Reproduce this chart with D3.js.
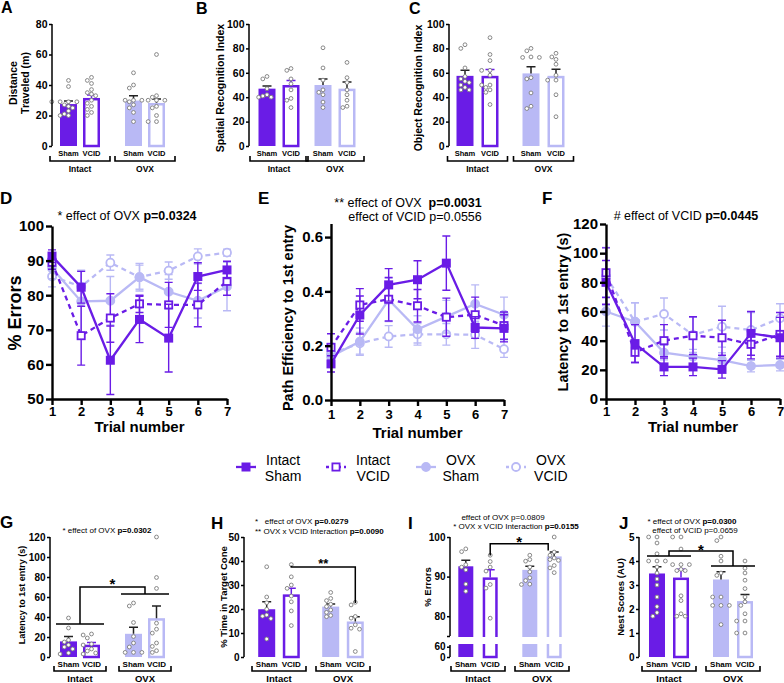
<!DOCTYPE html>
<html>
<head>
<meta charset="utf-8">
<script src="https://cdn.jsdelivr.net/npm/d3@7"></script>
<style>
body { margin: 0; background: #fff; }
svg { display: block; font-family: "Liberation Sans", Arial, sans-serif; }
</style>
</head>
<body>
<div id="container"></div>
<script>
var w = 784, h = 683;
var dark = "#6a1ce6", light = "#b9b9f5";

// ---- categories
var groups = ["Intact", "OVX"];
var conds = ["Sham", "VCID"];
var seriesNames = ["Intact Sham", "Intact VCID", "OVX Sham", "OVX VCID"];
var trials = [1, 2, 3, 4, 5, 6, 7];

// ---- A: distance traveled (m)
var distMean = [27.5, 31.5, 29.8, 28.2];
var distSem = [2.0, 2.0, 3.2, 2.6];
var distPts = [
  [43, 39, 29, 29, 29, 29, 27, 26, 25, 23, 21, 20, 20],
  [45, 43, 41, 37, 35, 34, 33, 30, 28, 26, 24, 22, 20],
  [48, 40, 38, 30, 30, 30, 29, 27, 25, 22, 16],
  [60, 33, 32, 30, 30, 30, 26, 25, 20, 16, 16]
];
// ---- B: spatial recognition index
var spatMean = [47, 50, 50, 47];
var spatSem = [2.2, 3.7, 5, 5.5];
var spatPts = [
  [57, 55, 47, 42, 41, 40, 40],
  [63.5, 62, 55, 51, 46, 39, 37.5, 31.5],
  [80.5, 64, 54, 46, 44, 42, 36, 31.5],
  [68.5, 56, 52, 46, 42, 37.5, 32.6, 31.5]
];
// ---- C: object recognition index
var objMean = [57.5, 57.5, 59.5, 57.5];
var objSem = [4.5, 5.2, 5.5, 5.5];
var objPts = [
  [83, 80, 64, 57, 55, 53, 52, 50, 48, 46, 46],
  [88.8, 75, 70, 62, 62, 58, 50, 50, 48, 46, 44, 34],
  [80, 78, 73, 72.6, 72.6, 56, 55, 43.5, 32.6, 30.7],
  [76, 73, 71, 67, 58, 54, 54, 42, 24]
];

// ---- D: % errors per trial
var errMean = [
  [91.3, 82.3, 61.2, 73.0, 67.6, 85.4, 87.3],
  [89.5, 68.3, 73.4, 77.5, 77.2, 77.2, 84.0],
  [87.8, 78.2, 78.4, 85.2, 81.0, 78.4, 82.5],
  [85.4, 82.5, 89.4, 85.2, 87.1, 91.2, 92.3]
];
var errSem = [
  [1.8, 4.6, 9.9, 6.7, 9.8, 4.0, 2.5],
  [2.0, 8.5, 7.0, 2.5, 6.5, 6.3, 4.0],
  [3.0, 9.0, 7.0, 4.0, 5.0, 5.0, 7.0],
  [3.0, 4.5, 2.2, 3.5, 2.5, 2.2, 1.0]
];
// ---- E: path efficiency to 1st entry
var pathMean = [
  [0.133, 0.313, 0.424, 0.443, 0.504, 0.267, 0.264],
  [0.194, 0.350, 0.371, 0.347, 0.305, 0.314, 0.274],
  [0.160, 0.215, 0.369, 0.260, 0.307, 0.354, 0.314],
  [0.170, 0.209, 0.234, 0.242, 0.242, 0.240, 0.187]
];
var pathSem = [
  [0.03, 0.07, 0.06, 0.07, 0.10, 0.04, 0.05],
  [0.05, 0.06, 0.08, 0.06, 0.07, 0.065, 0.05],
  [0.03, 0.05, 0.08, 0.05, 0.06, 0.07, 0.065],
  [0.03, 0.04, 0.04, 0.04, 0.04, 0.05, 0.03]
];
// ---- F: latency to 1st entry (s)
var latMean = [
  [80, 38, 22, 22, 20.3, 45, 42],
  [86.6, 32, 40, 43.4, 42, 37.5, 44.3],
  [60, 53, 31.8, 29, 26.7, 22.6, 23.3],
  [84, 53, 58.3, 44, 49.6, 47.3, 55.3]
];
var latSem = [
  [15, 13, 6, 6, 6, 15, 14],
  [17, 7, 11, 13, 12, 10, 15],
  [10, 13, 5, 5, 5, 4, 4],
  [20, 13, 11, 12, 14, 12, 10]
];

// ---- G: probe latency (s)
var probeLatMean = [15.6, 12.3, 23.2, 38.8];
var probeLatSem = [4.9, 2.3, 6.6, 12.2];
var probeLatPts = [
  [39, 29, 17, 15, 12, 10, 8, 4, 3],
  [23, 22, 19, 13, 12, 8, 6, 4, 3],
  [54, 51, 34.5, 20.5, 14, 10, 4.6, 4.6, 4.6],
  [120, 79.5, 68.6, 33.8, 27.8, 23.9, 14, 10.6, 6.3, 4.6]
];
// ---- H: % time in target cone
var coneMean = [19.9, 26.1, 21.0, 14.8];
var coneSem = [3.1, 2.5, 1.1, 2.0];
var conePts = [
  [37.6, 25, 22.6, 19.9, 17.5, 17, 16, 7.5],
  [38.5, 33.4, 30, 28.6, 25.4, 23, 19.2, 13.1],
  [26.9, 24.4, 23.5, 22, 21, 19.6, 18.6, 17.3, 16.8],
  [22.8, 21.7, 16.9, 16.2, 13.4, 12, 11.6, 2.3]
];
// ---- I: probe % errors
var probeErrMean = [92.6, 89.8, 91.7, 95.1];
var probeErrSem = [1.5, 1.9, 0.9, 1.1];
var probeErrPts = [
  [97, 96.3, 93, 92.4, 91.7, 88.1, 86.3],
  [95.4, 93.8, 92.4, 91.4, 88, 87.1, 79.5],
  [95.4, 94.3, 93.9, 92.4, 91.2, 89.7, 89, 88.1, 88],
  [100, 96.2, 95.4, 94.7, 94.3, 94.1, 92.8, 92.2, 91]
];
// ---- J: nest scores (AU)
var nestMean = [3.48, 3.31, 3.23, 2.33];
var nestSem = [0.28, 0.35, 0.32, 0.27];
var nestPts = [
  [5, 5, 4.75, 4.3, 4, 4, 4, 3.75, 3.5, 3.25, 3, 2.5, 2.1, 1.85, 1.7],
  [5, 5, 4.5, 3.85, 3.85, 3.85, 3.65, 3.6, 3.6, 2.55, 2.35, 1.8, 1.7, 1.7],
  [5, 4.85, 4.2, 4, 3.5, 3.4, 2.5, 2.5, 2.15, 2.15, 2.15, 1.35],
  [4, 3.7, 3.5, 3.2, 2.85, 2.5, 2.3, 2.15, 1.8, 1.5, 1.5, 1, 1]
];

// ---- styles for the four groups
var styles = [
  { c: dark, dash: null, shape: "square", fill: dark, barFill: dark },
  { c: dark, dash: "5,4", shape: "square", fill: "#fff", barFill: "#fff" },
  { c: light, dash: null, shape: "circle", fill: light, barFill: light },
  { c: light, dash: "5,4", shape: "circle", fill: "#fff", barFill: "#fff" }
];

var svg = d3.select("#container").append("svg")
  .attr("width", w).attr("height", h)
  .style("background-color", "white");

function panelLabel(t, x, y, size) {
  svg.append("text").attr("x", x).attr("y", y).attr("font-size", size || 17)
    .attr("font-weight", "bold").text(t);
}

function yTitle(lines, x, yc, size, gap) {
  lines.forEach(function(l, i) {
    svg.append("text")
      .attr("transform", "translate(" + (x + i * (gap || 0)) + "," + yc + ") rotate(-90)")
      .attr("text-anchor", "middle").attr("dominant-baseline", "central")
      .attr("font-size", size).attr("font-weight", "bold").text(l);
  });
}

// text with a normal part and a bold p-value part
function richText(parts, x, y, size, anchor) {
  var t = svg.append("text").attr("x", x).attr("y", y).attr("font-size", size)
    .attr("text-anchor", anchor || "middle").style("white-space", "pre");
  parts.forEach(function(p) {
    t.append("tspan").attr("font-weight", p[1] ? "bold" : "normal").text(p[0]);
  });
}

// simple deterministic beeswarm
function swarm(vals, y, cx, r) {
  var placed = [], out = [];
  var order = vals.map(function(v, i) { return i; }).sort(function(a, b) { return vals[b] - vals[a]; });
  var offs = [0, -1, 1, -2, 2, -3, 3, -4, 4];
  order.forEach(function(i) {
    var py = y(vals[i]), px = cx;
    for (var k = 0; k < offs.length; k++) {
      px = cx + offs[k] * r * 2.2;
      var ok = placed.every(function(p) {
        return (p[0] - px) * (p[0] - px) + (p[1] - py) * (p[1] - py) >= (2 * r + 0.5) * (2 * r + 0.5);
      });
      if (ok) break;
    }
    placed.push([px, py]);
    out[i] = [px, py];
  });
  return out;
}

function barPanel(p) {
  var g = svg.append("g");
  var y = p.y;
  var gx = d3.scalePoint().domain(groups).range(p.gx);
  var cx = d3.scalePoint().domain(conds).range([-p.half, p.half]);
  var xOf = function(i) { return gx(groups[Math.floor(i / 2)]) + cx(conds[i % 2]); };
  var sw = 2.5;

  // bars
  p.mean.forEach(function(m, i) {
    var st = styles[i];
    var outline = st.barFill === "#fff";
    g.append("rect")
      .attr("x", xOf(i) - p.bw / 2 + (outline ? sw / 2 : 0))
      .attr("width", p.bw - (outline ? sw : 0))
      .attr("y", y(m) + (outline ? sw / 2 : 0))
      .attr("height", y(p.base) - y(m) - (outline ? sw / 2 : 0))
      .attr("fill", st.barFill)
      .attr("stroke", outline ? st.c : "none")
      .attr("stroke-width", sw);
  });
  if (p.gap) {
    g.append("rect").attr("x", p.ax + 3).attr("width", p.gx[1] + 40 - p.ax)
      .attr("y", y(p.gap[1]) + 1).attr("height", y(p.gap[0]) - y(p.gap[1]) - 2)
      .attr("fill", "#fff");
  }
  // error bars (upward only)
  p.mean.forEach(function(m, i) {
    var ec = i === 1 ? dark : "#222";
    var top = y(m + p.sem[i]);
    g.append("path")
      .attr("d", "M" + xOf(i) + "," + y(m) + "V" + top + "M" + (xOf(i) - 4.5) + "," + top + "H" + (xOf(i) + 4.5))
      .attr("stroke", ec).attr("stroke-width", 1.5).attr("fill", "none");
  });
  // points
  p.pts.forEach(function(vals, i) {
    var pos = swarm(vals, y, xOf(i), 1.9);
    g.selectAll(null).data(pos).join("circle")
      .attr("cx", function(d) { return d[0]; }).attr("cy", function(d) { return d[1]; })
      .attr("r", 1.9).attr("fill", "#fff").attr("stroke", "#7c7c7c").attr("stroke-width", 0.9);
  });

  // y axis
  var ax = g.append("g").attr("transform", "translate(" + p.ax + ",0)")
    .call(d3.axisLeft(y).tickValues(p.ticks).tickSize(3).tickPadding(1.5).tickSizeOuter(0)
      .tickFormat(p.fmt || d3.format("d")));
  ax.selectAll("line").attr("stroke", "#000").attr("stroke-width", 1.5);
  ax.selectAll("text").attr("font-size", p.tickFont).attr("font-weight", "bold")
    .attr("font-family", "Liberation Sans, Arial, sans-serif").attr("fill", "#000");
  ax.select(".domain").remove();
  (p.segments || [[p.ticks[0], p.ticks[p.ticks.length - 1]]]).forEach(function(s) {
    ax.append("path").attr("d", "M0," + y(s[0]) + "V" + y(s[1]))
      .attr("stroke", "#000").attr("stroke-width", 1.5);
  });

  // category labels, brackets and group labels
  [0, 1, 2, 3].forEach(function(i) {
    g.append("text").attr("x", xOf(i)).attr("y", p.catY).attr("text-anchor", "middle")
      .attr("font-size", p.catFont).attr("font-weight", "bold").text(conds[i % 2]);
  });
  groups.forEach(function(gr) {
    var c = gx(gr);
    g.append("path")
      .attr("d", "M" + (c - p.brHalf) + "," + (p.brY - 5) + "V" + p.brY + "H" + (c + p.brHalf) + "V" + (p.brY - 5))
      .attr("fill", "none").attr("stroke", "#000").attr("stroke-width", 1.6);
    g.append("text").attr("x", c).attr("y", p.grpY).attr("text-anchor", "middle")
      .attr("font-size", p.grpFont).attr("font-weight", "bold").text(gr);
  });

  // significance annotation
  if (p.sig) {
    var s = p.sig, d, sx;
    if (s.type === "groups") {
      var c0 = gx(groups[0]), c1 = gx(groups[1]);
      d = "M" + (c0 - s.halfW) + "," + y(s.lo[0]) + "H" + (c0 + s.halfW) +
          "M" + (c1 - s.halfW) + "," + y(s.lo[1]) + "H" + (c1 + s.halfW) +
          "M" + c0 + "," + y(s.lo[0]) + "V" + y(s.top) + "H" + c1 + "V" + y(s.lo[1]);
      sx = (c0 + c1) / 2;
    } else {
      var xa = xOf(s.from) + (s.dxA || 0), xb = xOf(s.to) + (s.dxB || 0);
      d = "M" + xa + "," + y(s.down[0]) + "V" + y(s.top) + "H" + xb + "V" + y(s.down[1]);
      sx = (xa + xb) / 2;
    }
    g.append("path").attr("d", d).attr("fill", "none").attr("stroke", "#000").attr("stroke-width", 1.5);
    g.append("text").attr("x", sx).attr("y", y(s.top) + s.starDy).attr("text-anchor", "middle")
      .attr("font-size", s.size).attr("font-weight", "bold").text(s.star);
  }
}

function linePanel(p) {
  var g = svg.append("g");
  var x = d3.scaleLinear().domain([1, 7]).range(p.xr);
  var y = d3.scaleLinear().domain(p.yd).range(p.yr);
  var line = d3.line().x(function(d, i) { return x(trials[i]); }).y(function(d) { return y(d); });
  [3, 2, 1, 0].forEach(function(si) {
    var st = styles[si];
    p.mean[si].forEach(function(m, i) {
      var s = p.sem[si][i], xx = x(trials[i]);
      g.append("path")
        .attr("d", "M" + xx + "," + y(m - s) + "V" + y(m + s) +
          "M" + (xx - 4) + "," + y(m - s) + "H" + (xx + 4) +
          "M" + (xx - 4) + "," + y(m + s) + "H" + (xx + 4))
        .attr("stroke", st.c).attr("stroke-width", 1.4).attr("fill", "none");
    });
    g.append("path").datum(p.mean[si]).attr("d", line)
      .attr("fill", "none").attr("stroke", st.c).attr("stroke-width", 2.3)
      .attr("stroke-dasharray", st.dash);
    p.mean[si].forEach(function(m, i) {
      drawMarker(g, st, x(trials[i]), y(m));
    });
  });
  var ax = g.append("g").attr("transform", "translate(" + p.xr[0] + ",0)")
    .call(d3.axisLeft(y).tickValues(p.yticks).tickSize(6).tickPadding(2).tickSizeOuter(0).tickFormat(p.fmt));
  var bx = g.append("g").attr("transform", "translate(0," + p.yr[0] + ")")
    .call(d3.axisBottom(x).tickValues(trials).tickSize(6).tickPadding(2).tickSizeOuter(0).tickFormat(d3.format("d")));
  [ax, bx].forEach(function(a) {
    a.selectAll("line,path").attr("stroke", "#000").attr("stroke-width", 2.4);
    a.selectAll("text").attr("font-weight", "bold").attr("fill", "#000")
      .attr("font-family", "Liberation Sans, Arial, sans-serif");
  });
  ax.selectAll("text").attr("font-size", p.ytf);
  bx.selectAll("text").attr("font-size", 13).attr("dy", p.xdy);
  g.append("text").attr("x", (p.xr[0] + p.xr[1]) / 2).attr("y", p.xTitleY)
    .attr("text-anchor", "middle").attr("font-size", 15).attr("font-weight", "bold")
    .text("Trial number");
}

function drawMarker(g, st, x, y) {
  if (st.shape === "square") {
    g.append("rect").attr("x", x - 3.6).attr("y", y - 3.6).attr("width", 7.2).attr("height", 7.2)
      .attr("fill", st.fill).attr("stroke", st.c).attr("stroke-width", 1.8);
  } else {
    g.append("circle").attr("cx", x).attr("cy", y).attr("r", 4)
      .attr("fill", st.fill).attr("stroke", st.c).attr("stroke-width", 1.8);
  }
}

// ---------------- top row ----------------
var smallTop = { catY: 156, brY: 161, grpY: 172, catFont: 7.5, grpFont: 8.5, tickFont: 10.5, bw: 17, base: 0 };
barPanel(Object.assign({}, smallTop, {
  ax: 52, y: d3.scaleLinear().domain([0, 80]).range([146, 24]), ticks: [0, 20, 40, 60, 80],
  gx: [80, 145], half: 11.5, brHalf: 30, mean: distMean, sem: distSem, pts: distPts
}));
barPanel(Object.assign({}, smallTop, {
  ax: 249, y: d3.scaleLinear().domain([0, 100]).range([146, 24]), ticks: [0, 20, 40, 60, 80, 100],
  gx: [279, 335], half: 12, brHalf: 29, mean: spatMean, sem: spatSem, pts: spatPts
}));
barPanel(Object.assign({}, smallTop, {
  ax: 449, y: d3.scaleLinear().domain([0, 100]).range([146, 24]), ticks: [0, 20, 40, 60, 80, 100],
  gx: [477.5, 543.5], half: 12.5, brHalf: 30, mean: objMean, sem: objSem, pts: objPts
}));
panelLabel("A", 1, 13, 16);
panelLabel("B", 196, 14, 16);
panelLabel("C", 409, 14, 16);
yTitle(["Distance", "Traveled (m)"], 13, 83, 10.5, 12);
yTitle(["Spatial Recognition Index"], 220, 88, 10.5);
yTitle(["Object Recognition Index"], 418, 88, 10.5);

// ---------------- middle row ----------------
linePanel({ xr: [52, 227], yd: [50, 100], yr: [399, 226], yticks: [50, 60, 70, 80, 90, 100],
  fmt: d3.format("d"), ytf: 15, mean: errMean, sem: errSem, xdy: "0.71em", xTitleY: 432 });
linePanel({ xr: [331, 504], yd: [0, 0.65], yr: [400, 223.5], yticks: [0, 0.2, 0.4, 0.6],
  fmt: d3.format(".1f"), ytf: 15, mean: pathMean, sem: pathSem, xdy: "0.85em", xTitleY: 438 });
linePanel({ xr: [606, 780], yd: [0, 120], yr: [399, 224], yticks: [0, 20, 40, 60, 80, 100, 120],
  fmt: d3.format("d"), ytf: 15, mean: latMean, sem: latSem, xdy: "0.71em", xTitleY: 432 });
panelLabel("D", 0, 204);
panelLabel("E", 258, 204);
panelLabel("F", 542, 204);
yTitle(["% Errors"], 15, 313, 18);
yTitle(["Path Efficiency to 1st entry"], 288, 318, 14.5);
yTitle(["Latency to 1st entry (s)"], 563, 312, 14.5);
richText([["* effect of OVX "], ["p=0.0324", true]], 127, 220, 12.5);
richText([["** effect of OVX  "], ["p=0.0031", true]], 408, 207, 12.5);
richText([["effect of VCID p=0.0556"]], 415, 221, 12.5);
richText([["# effect of VCID "], ["p=0.0445", true]], 686, 220, 12.5);

// legend
var legX = d3.scalePoint().domain(seriesNames).range([246, 516]);
var legendLines = [["Intact", "Sham"], ["Intact", "VCID"], ["OVX", "Sham"], ["OVX", "VCID"]];
seriesNames.forEach(function(n, i) {
  var st = styles[i], mx = legX(n), my = 467;
  var lg = svg.append("g");
  lg.append("path").attr("d", "M" + (mx - 10) + "," + my + "H" + (mx + 10))
    .attr("stroke", st.c).attr("stroke-width", 2.3).attr("stroke-dasharray", st.dash ? "3,3" : null);
  drawMarker(lg, st, mx, my);
  var t1 = lg.append("text").attr("x", mx + 20).attr("y", 465).attr("font-size", 14).text(legendLines[i][0]);
  var tw = t1.node().getComputedTextLength();
  lg.append("text").attr("x", mx + 20 + tw / 2).attr("y", 481).attr("text-anchor", "middle")
    .attr("font-size", 14).text(legendLines[i][1]);
});

// ---------------- bottom row ----------------
var smallBot = { catY: 667, brY: 671, grpY: 682, catFont: 8, grpFont: 9.5, tickFont: 10, bw: 17, base: 0, brHalf: 27 };
barPanel(Object.assign({}, smallBot, {
  ax: 50, y: d3.scaleLinear().domain([0, 120]).range([657, 537]), ticks: [0, 20, 40, 60, 80, 100, 120],
  gx: [80, 145], half: 11.5, brHalf: 26, mean: probeLatMean, sem: probeLatSem, pts: probeLatPts,
  sig: { type: "groups", lo: [33, 63], top: 70, halfW: 24, star: "*", size: 15, starDy: 2 }
}));
barPanel(Object.assign({}, smallBot, {
  ax: 244, y: d3.scaleLinear().domain([0, 50]).range([657, 537]), ticks: [0, 10, 20, 30, 40, 50],
  gx: [279, 343], half: 12.3, mean: coneMean, sem: coneSem, pts: conePts,
  sig: { type: "bars", from: 1, to: 3, down: [38, 22.5], top: 37.5, star: "**", size: 13, starDy: 1 }
}));
barPanel(Object.assign({}, smallBot, {
  ax: 450, y: d3.scaleLinear().domain([0, 70, 75, 100]).range([657, 645, 636, 537]),
  ticks: [0, 60, 75, 80, 90, 100], fmt: function(d) { return d === 75 ? "" : d; },
  segments: [[0, 70], [75, 100]], gap: [70, 75],
  gx: [478, 542], half: 12.2, bw: 15, mean: probeErrMean, sem: probeErrSem, pts: probeErrPts,
  sig: { type: "bars", from: 1, to: 3, dxB: -6, down: [95.3, 96.6], top: 98.3, star: "*", size: 15, starDy: 3 }
}));
barPanel(Object.assign({}, smallBot, {
  ax: 639, y: d3.scaleLinear().domain([0, 5]).range([657, 537]), ticks: [0, 1, 2, 3, 4, 5],
  gx: [669, 733], half: 12, bw: 16, mean: nestMean, sem: nestSem, pts: nestPts,
  sig: { type: "groups", lo: [4.21, 3.79], top: 4.42, halfW: 22, star: "*", size: 15, starDy: 4 }
}));
panelLabel("G", 0, 528);
panelLabel("H", 211, 529);
panelLabel("I", 408, 529);
panelLabel("J", 619, 529);
yTitle(["Latency to 1st entry (s)"], 22, 595, 9);
yTitle(["% Time in Target Cone"], 223, 597, 9.5);
yTitle(["% Errors"], 427, 587, 9.5);
yTitle(["Nest Scores (AU)"], 620, 597, 9.5);
richText([["* effect of OVX "], ["p=0.0302", true]], 107, 533, 8);
richText([["*   effect of OVX "], ["p=0.0279", true]], 255, 524, 8, "start");
richText([["** OVX x VCID Interaction "], ["p=0.0090", true]], 255, 534, 8, "start");
richText([["effect of OVX p=0.0809"]], 503, 520, 8);
richText([["* OVX x VCID Interaction "], ["p=0.0155", true]], 516, 529, 8);
richText([["* effect of OVX "], ["p=0.0300", true]], 692, 524, 8);
richText([["effect of VCID p=0.0659"]], 695, 533, 8);
</script>
</body>
</html>
